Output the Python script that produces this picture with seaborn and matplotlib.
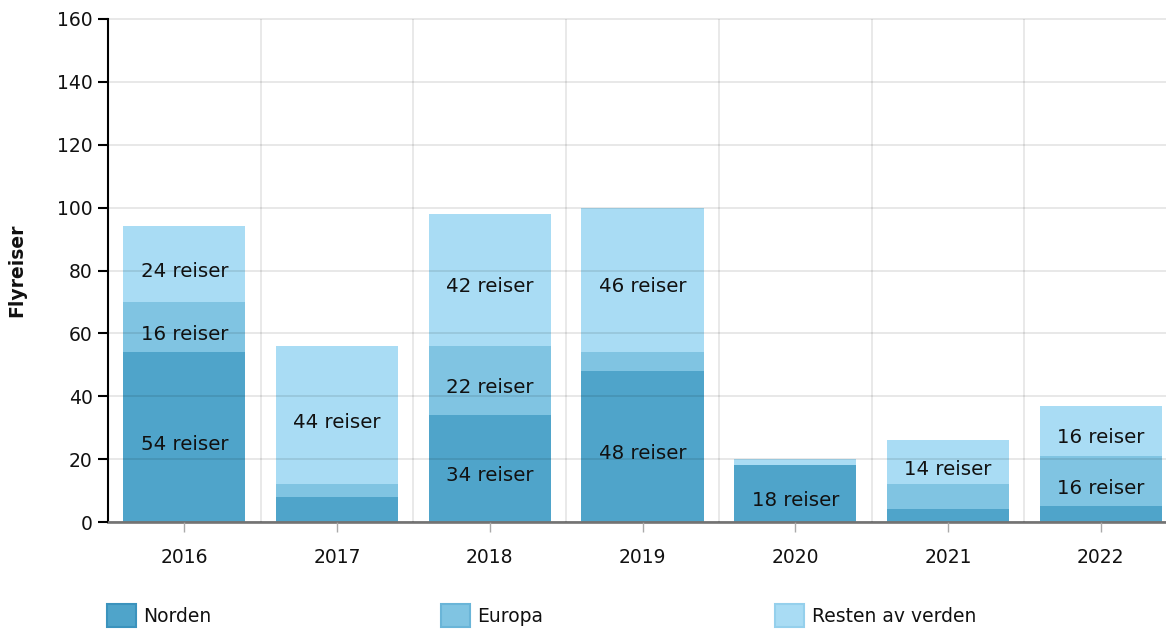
#!/usr/bin/env python3
"""Flyreiser per år, fordelt på Norden / Europa / Resten av verden"""

import numpy as np
import pandas as pd
import matplotlib
matplotlib.use('Agg')
import matplotlib.pyplot as plt
import seaborn as sns
from matplotlib.patches import Patch

years = ['2016', '2017', '2018', '2019', '2020', '2021', '2022']
norden = [54, 8, 34, 48, 18, 4, 5]
europa = [16, 4, 22, 6, 0, 8, 16]
resten = [24, 44, 42, 46, 2, 14, 16]
series_names = ['Norden', 'Europa', 'Resten av verden']
colors = ['#4fa4ca', '#80c4e2', '#a9dcf4']
edges = ['#3b93bd', '#6ab5d8', '#95d0ec']

df = pd.DataFrame({'year': years, 'Norden': norden, 'Europa': europa,
                   'Resten av verden': resten})
df['cum1'] = df['Norden']
df['cum2'] = df['cum1'] + df['Europa']
df['cum3'] = df['cum2'] + df['Resten av verden']

sns.set_style('white')
plt.rcParams['font.family'] = ['DejaVu Sans']
plt.rcParams['text.color'] = '#111111'
plt.rcParams['xtick.labelcolor'] = '#111111'
plt.rcParams['ytick.labelcolor'] = '#111111'
plt.rcParams['axes.labelcolor'] = '#111111'

fig = plt.figure(figsize=(11.66, 6.29), dpi=100)
ax = fig.add_axes([108 / 1166, 1 - 522 / 629, 1069 / 1166, 503 / 629])

# stacked bars: draw the tallest first, then cover with the lower stacks
for col, color in zip(['cum3', 'cum2', 'cum1'], colors[::-1]):
    sns.barplot(data=df, x='year', y=col, order=years, color=color,
                saturation=1, width=0.8, ax=ax, linewidth=0)

# labels inside segments
bottoms = np.zeros(len(years))
for name in series_names:
    vals = df[name].values
    for i, v in enumerate(vals):
        if v >= 14:
            ax.annotate(f'{v} reiser', (i, bottoms[i] + v / 2), xytext=(0, -5),
                        textcoords='offset points', ha='center', va='center',
                        fontsize=14.2, color='#111111')
    bottoms += vals

ax.set_ylim(0, 160)
ax.set_xlim(-0.5, 6.5)
ax.set_yticks(range(0, 161, 20))
ax.set_xticks(np.arange(-0.5, 7, 1), minor=True)
ax.set_axisbelow(False)
ax.grid(axis='y', which='major', color='black', alpha=0.11, linewidth=1.2)
ax.grid(axis='x', which='minor', color='black', alpha=0.10, linewidth=1.2)
for gl in ax.get_ygridlines():
    gl.set_clip_on(False)
ax.tick_params(axis='x', which='minor', length=0)
ax.tick_params(axis='y', which='major', length=7, width=1.5, color='black',
               labelsize=13.5, pad=4)
ax.tick_params(axis='x', which='major', length=7, width=1, color='#aaaaaa',
               labelsize=13.5, pad=12, direction='out')
ax.tick_params(axis='both', which='major', bottom=True, left=True)

for s in ['top', 'right']:
    ax.spines[s].set_visible(False)
ax.spines['left'].set_color('black')
ax.spines['left'].set_linewidth(1.5)
ax.spines['bottom'].set_color('#7f7f7f')
ax.spines['bottom'].set_linewidth(2)

ax.set_xlabel('')
ax.set_ylabel('Flyreiser', fontsize=13.5, fontweight='bold', labelpad=22)

# legend entries placed one by one, like the original
for name, color, edge, xpos in zip(series_names, colors, edges, [107, 441, 775]):
    leg = fig.legend(handles=[Patch(facecolor=color, edgecolor=edge, linewidth=1.5)],
                     labels=[name], loc='upper left',
                     bbox_to_anchor=(xpos / 1166, 1 - 604 / 629),
                     frameon=False, fontsize=13.5, handlelength=1.55,
                     handleheight=1.55, handletextpad=0.4, borderaxespad=0,
                     borderpad=0)

fig.savefig('out.png', dpi=100)
